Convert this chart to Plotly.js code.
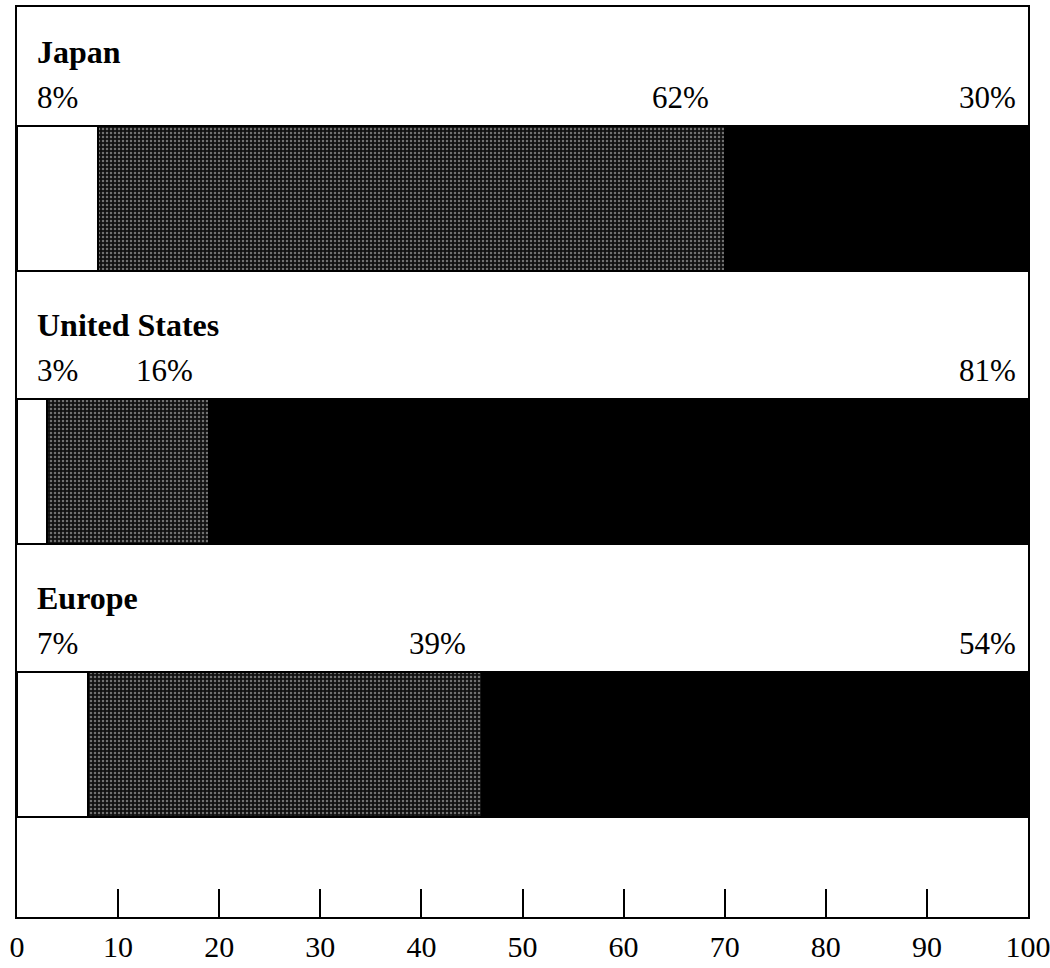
<!DOCTYPE html>
<html>
<head>
<meta charset="utf-8">
<script src="https://cdn.plot.ly/plotly-3.0.1.min.js"></script>
<style>html,body{margin:0;padding:0;background:#fff;}#chart{width:1050px;height:968px;}</style>
</head>
<body>
<div id="chart"></div>
<script>
// Data
const regions = ['Japan', 'United States', 'Europe'];
const whiteShare = [8, 3, 7];
const grayShare = [62, 16, 39];
const blackShare = [30, 81, 54];
const tickValues = [0, 10, 20, 30, 40, 50, 60, 70, 80, 90, 100];
const tickLabels = ['0', '10', '20', '30', '40', '50', '60', '70', '80', '90', '100'];

const FONT = 'Liberation Serif, Times New Roman, serif';
const outline = {color: '#000', width: 2};

const traces = [
  {type: 'bar', orientation: 'h', y: regions, x: whiteShare, width: 0.53,
   marker: {color: '#ffffff', line: outline}, hoverinfo: 'x', showlegend: false},
  {type: 'bar', orientation: 'h', y: regions, x: grayShare, width: 0.53,
   marker: {color: '#222', line: outline,
            pattern: {shape: '.', fgcolor: '#cfcfcf', bgcolor: '#111111', size: 4, solidity: 0.3, fillmode: 'overlay'}},
   hoverinfo: 'x', showlegend: false},
  {type: 'bar', orientation: 'h', y: regions, x: blackShare, width: 0.53,
   marker: {color: '#000000', line: outline}, hoverinfo: 'x', showlegend: false}
];

const annotations = [];
regions.forEach((r, i) => {
  annotations.push({x: 0, y: r, xref: 'x', yref: 'y', text: r, showarrow: false,
    xanchor: 'left', yanchor: 'middle', xshift: 18, yshift: 146,
    font: {family: FONT, size: 32, color: '#000', weight: 'bold'}});
  annotations.push({x: 0, y: r, xref: 'x', yref: 'y', text: whiteShare[i] + '%', showarrow: false,
    xanchor: 'left', yanchor: 'middle', xshift: 18, yshift: 101,
    font: {family: FONT, size: 31, color: '#000'}});
  annotations.push({x: whiteShare[i] + grayShare[i], y: r, xref: 'x', yref: 'y', text: grayShare[i] + '%', showarrow: false,
    xanchor: 'right', yanchor: 'middle', xshift: -14, yshift: 101,
    font: {family: FONT, size: 31, color: '#000'}});
  annotations.push({x: 100, y: r, xref: 'x', yref: 'y', text: blackShare[i] + '%', showarrow: false,
    xanchor: 'right', yanchor: 'middle', xshift: -10, yshift: 101,
    font: {family: FONT, size: 31, color: '#000'}});
});

const layout = {
  width: 1050, height: 968,
  margin: {l: 17, r: 22, t: 7, b: 51, pad: 0},
  paper_bgcolor: '#fff', plot_bgcolor: '#fff',
  barmode: 'stack',
  bargap: 0,
  font: {family: FONT, color: '#000'},
  xaxis: {range: [0, 100], tickvals: tickValues, ticktext: tickLabels,
    ticks: 'inside', ticklen: 28, tickwidth: 2, tickcolor: '#000',
    showline: true, linecolor: '#000', linewidth: 2, mirror: true,
    showgrid: false, zeroline: false, fixedrange: true,
    ticklabelstandoff: 2, ticklabeloverflow: 'allow',
    tickfont: {family: FONT, size: 30, color: '#000'}},
  yaxis: {type: 'category', categoryorder: 'array', categoryarray: regions,
    range: [2.632, -0.70], showticklabels: false, ticks: '',
    showline: true, linecolor: '#000', linewidth: 2, mirror: true,
    showgrid: false, zeroline: false, fixedrange: true},
  annotations: annotations
};

Plotly.newPlot('chart', traces, layout, {displayModeBar: false, staticPlot: true});
</script>
</body>
</html>
